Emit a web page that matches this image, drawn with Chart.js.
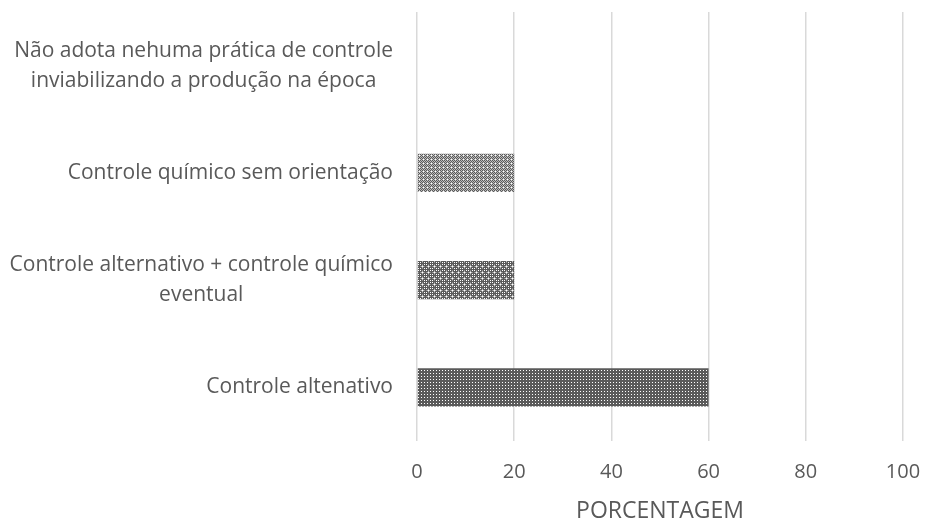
<!DOCTYPE html>
<html>
<head>
<meta charset="utf-8">
<script src="https://cdn.jsdelivr.net/npm/chart.js@4/dist/chart.umd.min.js"></script>
<style>
  html, body { margin: 0; padding: 0; background: #fff; }
  #wrap { width: 925px; height: 519px; }
</style>
</head>
<body>
<div id="wrap"><canvas id="chart" width="925" height="519"></canvas></div>
<script>
// data
const categories = [
    ['Não adota nehuma prática de controle', 'inviabilizando a produção na época'],
    ['Controle químico sem orientação'],
    ['Controle alternativo + controle químico', 'eventual'],
    ['Controle altenativo']
];
const percentages = [0, 20, 20, 60];
const xTicks = [0, 20, 40, 60, 80, 100];
const axisTitle = 'PORCENTAGEM';

const textColor = '#595959';
const fontFamily = '"Open Sans", "Noto Sans", sans-serif';

// small tiles used as bar fills
function makePattern(rows, colors) {
    const c = document.createElement('canvas');
    c.width = rows[0].length;
    c.height = rows.length;
    const ctx = c.getContext('2d');
    rows.forEach(function(row, y) {
        for (let x = 0; x < row.length; x++) {
            ctx.fillStyle = colors[row[x]];
            ctx.fillRect(x, y, 1, 1);
        }
    });
    return ctx.createPattern(c, 'repeat');
}
const shades = { D: '#5a5a5a', M: '#8c8c8c', L: '#bdbdbd', W: '#ffffff' };

const fineCheck = makePattern([
    'DLDL',
    'LDLD',
    'DLDL',
    'LDLW'
], shades);
const crosses = makePattern([
    'WDMDWD',
    'DDLDDD',
    'MLWLMD',
    'DDLDDD',
    'WDMDWD',
    'DDDDDD'
], shades);
const dots = makePattern([
    'DDD',
    'DWD',
    'DDD'
], shades);

const barFills = [fineCheck, fineCheck, crosses, dots];

// y labels: block right-aligned, lines centered inside the block
const yLabelPlugin = {
    id: 'yLabels',
    afterDraw(chart) {
        const ctx = chart.ctx;
        const scale = chart.scales.y;
        const rightEdge = chart.chartArea.left - 24;
        const lineH = 30;
        ctx.save();
        ctx.font = '21px ' + fontFamily;
        ctx.fillStyle = textColor;
        ctx.textAlign = 'center';
        ctx.textBaseline = 'middle';
        categories.forEach(function(lines, i) {
            const yc = scale.getPixelForTick(i);
            let widest = 0;
            lines.forEach(function(l) { widest = Math.max(widest, ctx.measureText(l).width); });
            const cx = rightEdge - widest / 2;
            const top = yc - (lines.length - 1) * lineH / 2;
            lines.forEach(function(l, j) {
                ctx.fillText(l, cx, top + j * lineH);
            });
        });
        ctx.restore();
    }
};

new Chart(document.getElementById('chart'), {
    type: 'bar',
    data: {
        labels: categories.map(function(l) { return l.join(' '); }),
        datasets: [{
            data: percentages,
            backgroundColor: barFills,
            borderWidth: 0,
            barPercentage: 0.355,
            categoryPercentage: 1
        }]
    },
    options: {
        indexAxis: 'y',
        responsive: false,
        animation: false,
        devicePixelRatio: 1,
        layout: { padding: { top: 12, right: 22, bottom: 0, left: 0 } },
        plugins: {
            legend: { display: false },
            tooltip: { enabled: false }
        },
        scales: {
            x: {
                min: 0,
                max: 100,
                afterBuildTicks: function(scale) {
                    scale.ticks = xTicks.map(function(v) { return { value: v }; });
                },
                afterFit: function(scale) {
                    scale.height = 78;
                    scale.paddingLeft = 0;
                    scale.paddingRight = 0;
                },
                grid: { color: '#d9d9d9', lineWidth: 1.5, drawTicks: false },
                border: { display: false },
                ticks: {
                    color: textColor,
                    padding: 19,
                    font: { family: fontFamily, size: 20 }
                },
                title: {
                    display: true,
                    text: axisTitle,
                    color: textColor,
                    font: { family: fontFamily, size: 23 },
                    padding: { top: 0, bottom: -6 }
                }
            },
            y: {
                afterFit: function(scale) { scale.width = 417; },
                grid: { display: false },
                border: { display: false },
                ticks: { display: false }
            }
        }
    },
    plugins: [yLabelPlugin]
});
</script>
</body>
</html>
